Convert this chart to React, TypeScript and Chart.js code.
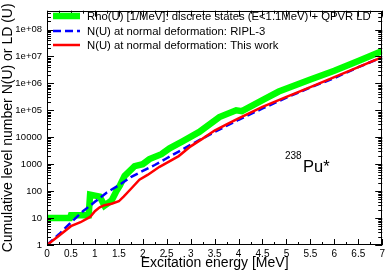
import { useEffect, useRef } from "react";
import { Chart, registerables } from "chart.js";

Chart.register(...registerables);

// Rho(U) [1/MeV]: discrete states (E<1.1MeV) + QPVR LD
const rhoE = [0, 0.48, 0.5, 0.87, 0.9, 1.1, 1.2, 1.35, 1.45, 1.52, 1.62, 1.83, 2.0, 2.14, 2.39, 2.56, 2.83, 3.18, 3.6, 3.95, 4.07, 4.5, 4.84, 5.5, 6.0, 6.5, 7.0];
const rhoN = [10, 10, 12.6, 12.6, 74, 63, 29, 45, 100, 160, 365, 850, 1000, 1550, 2350, 3900, 7100, 15800, 56000, 100000, 93000, 240000, 500000, 1.4e6, 2.95e6, 6.8e6, 1.6e7];

// N(U) at normal deformation: RIPL-3
const riplE = [0, 0.25, 0.5, 0.75, 1.0, 1.25, 1.5, 1.75, 2.0, 2.25, 2.5, 2.75, 3.0, 3.5, 4.0, 4.5, 5.0, 5.5, 6.0, 6.5, 7.0];
const riplN = [1, 2.5, 6.9, 17.8, 40, 89, 166, 331, 562, 933, 1660, 2950, 5250, 15800, 44700, 117000, 295000, 708000, 1.58e6, 4.0e6, 9.3e6];

// N(U) at normal deformation: This work
const workE = [0, 0.25, 0.5, 0.7, 0.9, 1.0, 1.1, 1.2, 1.35, 1.5, 1.6, 1.75, 1.93, 2.1, 2.35, 2.5, 2.75, 3.0, 3.25, 3.5, 3.75, 4.0, 4.5, 5.0, 5.5, 6.0, 6.5, 7.0];
const workN = [1, 2.2, 5, 7, 11, 18, 25, 30, 34, 42, 63, 120, 265, 400, 800, 1120, 2000, 4600, 8900, 17800, 30000, 50000, 135000, 316000, 724000, 1.7e6, 4.0e6, 9.5e6];

const xTickValues = [0, 0.5, 1, 1.5, 2, 2.5, 3, 3.5, 4, 4.5, 5, 5.5, 6, 6.5, 7];
const xTickLabels = ["0", "0.5", "1", "1.5", "2", "2.5", "3", "3.5", "4", "4.5", "5", "5.5", "6", "6.5", "7"];
const yTickValues = [1, 10, 100, 1000, 10000, 1e5, 1e6, 1e7, 1e8];
const yTickLabels = ["1", "10", "100", "1000", "10000", "1e+05", "1e+06", "1e+07", "1e+08"];

const seriesLabels = [
  "Rho(U) [1/MeV]: discrete states (E<1.1MeV) + QPVR LD",
  "N(U) at normal deformation: RIPL-3",
  "N(U) at normal deformation: This work",
];

const FONT = "'Liberation Sans', Arial, Helvetica, sans-serif";

const toPoints = (xs: number[], ys: number[]) => xs.map((x, i) => ({ x, y: ys[i] }));

const decorPlugin = {
  id: "decor",
  afterDraw(chart: any) {
    const { ctx, chartArea, scales } = chart;
    const { left, right, top, bottom } = chartArea;
    const xs = scales.x;
    const ys = scales.y;
    ctx.save();
    ctx.strokeStyle = "#000";
    ctx.lineWidth = 1;
    ctx.setLineDash([]);
    const line = (x1: number, y1: number, x2: number, y2: number) => {
      ctx.beginPath();
      ctx.moveTo(x1, y1);
      ctx.lineTo(x2, y2);
      ctx.stroke();
    };
    // x ticks (inside, bottom and top)
    for (let k = 0; k <= 28; k++) {
      const v = k * 0.25;
      const px = Math.round(xs.getPixelForValue(v)) + 0.5;
      const len = k % 2 === 0 ? 6 : 3;
      line(px, bottom, px, bottom - len);
      line(px, top, px, top + len);
    }
    // y ticks (inside, left and right)
    for (let d = 0; d <= 8; d++) {
      for (let m = 1; m <= 9; m++) {
        const v = m * Math.pow(10, d);
        if (v > ys.max) break;
        const py = Math.round(ys.getPixelForValue(v)) + 0.5;
        const len = m === 1 ? 7 : 4;
        line(left, py, left + len, py);
        line(right, py, right - len, py);
      }
    }
    // frame
    ctx.strokeRect(Math.round(left) + 0.5, Math.round(top) + 0.5, Math.round(right - left) - 1, Math.round(bottom - top) - 1);

    // legend
    const rows = [16.5, 31.5, 45.5];
    chart.data.datasets.forEach((ds: any, i: number) => {
      const y = rows[i] - 0.5;
      ctx.save();
      ctx.strokeStyle = ds.borderColor;
      ctx.lineWidth = ds.borderWidth;
      ctx.setLineDash(ds.borderDash || []);
      line(left + 6, y, left + 33, y);
      ctx.restore();
      ctx.fillStyle = "#000";
      ctx.font = `11.3px ${FONT}`;
      ctx.textBaseline = "middle";
      ctx.textAlign = "left";
      ctx.fillText(ds.label, left + 40, rows[i]);
    });

    // nucleus annotation
    ctx.fillStyle = "#000";
    ctx.textBaseline = "alphabetic";
    ctx.textAlign = "left";
    ctx.font = `10px ${FONT}`;
    ctx.fillText("238", 285, 159);
    ctx.font = `16.5px ${FONT}`;
    ctx.fillText("Pu*", 303, 172);
    ctx.restore();
  },
};

export default function App() {
  const ref = useRef<HTMLCanvasElement | null>(null);
  useEffect(() => {
    if (!ref.current) return;
    const chart = new Chart(ref.current, {
      type: "line",
      data: {
        datasets: [
          {
            label: seriesLabels[0],
            data: toPoints(rhoE, rhoN),
            borderColor: "#00ff00",
            borderWidth: 6.5,
            pointRadius: 0,
            tension: 0,
            order: 3,
            borderJoinStyle: "miter",
          },
          {
            label: seriesLabels[1],
            data: toPoints(riplE, riplN),
            borderColor: "#0000ff",
            borderWidth: 2.5,
            borderDash: [8, 4],
            pointRadius: 0,
            tension: 0,
            order: 2,
          },
          {
            label: seriesLabels[2],
            data: toPoints(workE, workN),
            borderColor: "#ff0000",
            borderWidth: 2.5,
            pointRadius: 0,
            tension: 0,
            order: 1,
          },
        ],
      } as any,
      options: {
        animation: false,
        responsive: false,
        devicePixelRatio: 1,
        layout: { padding: { top: 7, right: 4, left: 0, bottom: 0 } },
        plugins: { legend: { display: false }, tooltip: { enabled: false } },
        scales: {
          x: {
            type: "linear",
            min: 0,
            max: 7,
            grid: { display: false, drawTicks: false, tickLength: 0 },
            border: { display: false },
            afterBuildTicks: (s: any) => {
              s.ticks = xTickValues.map((v) => ({ value: v }));
            },
            afterFit: (s: any) => {
              s.height = 28;
            },
            ticks: {
              autoSkip: false,
              maxRotation: 0,
              padding: 3,
              color: "#000",
              font: { family: FONT, size: 10 },
              callback: (_v: any, i: number) => xTickLabels[i],
            },
            title: {
              display: true,
              text: "Excitation energy [MeV]",
              color: "#000",
              font: { family: FONT, size: 14, lineHeight: 1.2 },
              padding: { top: 0, bottom: 1 },
            },
          },
          y: {
            type: "logarithmic",
            min: 1,
            max: 5e8,
            grid: { display: false, drawTicks: false, tickLength: 0 },
            border: { display: false },
            afterBuildTicks: (s: any) => {
              s.ticks = yTickValues.map((v) => ({ value: v }));
            },
            afterFit: (s: any) => {
              s.width = 47;
            },
            ticks: {
              autoSkip: false,
              padding: 5,
              color: "#000",
              font: { family: FONT, size: 9.5 },
              callback: (_v: any, i: number) => yTickLabels[i],
            },
            title: {
              display: true,
              text: "Cumulative level number N(U) or LD (U)",
              color: "#000",
              font: { family: FONT, size: 14, lineHeight: 1.2 },
              padding: { top: 0, bottom: 0 },
            },
          },
        },
      } as any,
      plugins: [decorPlugin],
    });
    return () => chart.destroy();
  }, []);
  return (
    <div style={{ position: "absolute", left: 0, top: 0, width: 388, height: 273, background: "#fff" }}>
      <canvas ref={ref} width={388} height={273} />
    </div>
  );
}
